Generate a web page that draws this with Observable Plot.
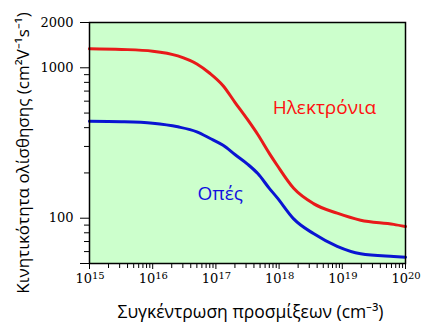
<!DOCTYPE html>
<html><head><meta charset="utf-8">
<script src="https://cdn.jsdelivr.net/npm/d3@7"></script>
<script src="https://cdn.jsdelivr.net/npm/@observablehq/plot@0.6"></script>
<style>body{margin:0;background:#fff}svg{display:block}</style>
</head><body><div id="chart"></div>
<script>
// Impurity concentration (cm^-3)
const concentration = [1e15, 3.2e15, 1e16, 2.5e16, 5e16, 8e16, 1.3e17, 2e17, 3.2e17, 4.6e17, 7e17, 9.3e17, 1.7e18, 3.5e18, 8.3e18, 1.95e19, 6.5e19, 1e20];
// Electron mobility (cm^2 V^-1 s^-1)
const electronMobility = [1340, 1325, 1290, 1200, 1060, 920, 760, 590, 450, 360, 270, 225, 158, 125, 108, 97, 91, 88];
// Hole mobility (cm^2 V^-1 s^-1)
const holeMobility = [441, 438, 428, 405, 375, 340, 305, 265, 228, 198, 158, 137, 99, 79, 65, 58, 55.6, 55];

const yMajorTicks = [50, 100, 1000, 2000];
const yMinorTicks = [60, 70, 80, 90, 200, 300, 400, 500, 600, 700, 800, 900];
const xMajorTicks = [1e15, 1e16, 1e17, 1e18, 1e19, 1e20];
const xExponents = ["15", "16", "17", "18", "19", "20"];
const xMinorTicks = [];
for (let e = 15; e < 20; e++) for (let m = 2; m <= 9; m++) xMinorTicks.push(m * Math.pow(10, e));

const seriesLabels = [
  {name: "Ηλεκτρόνια", x: 5.2e18, y: 540, color: "#ff1010"},
  {name: "Οπές", x: 1.17e17, y: 146, color: "#1010e0"}
];
const xLabel = "Συγκέντρωση προσμίξεων (cm⁻³)";
const yLabel = "Κινητικότητα ολίσθησης (cm²V⁻¹s⁻¹)";

const electrons = concentration.map((c, i) => ({c, mu: electronMobility[i]}));
const holes = concentration.map((c, i) => ({c, mu: holeMobility[i]}));

const serif = "'DejaVu Serif', serif";
const sans = "'Open Sans', sans-serif";

const chart = Plot.plot({
  width: 423, height: 326,
  marginLeft: 89, marginRight: 18, marginTop: 22, marginBottom: 63,
  style: {fontFamily: serif, fontSize: "13px", background: "#fff", color: "#000"},
  x: {type: "log", domain: [1e15, 1e20]},
  y: {type: "log", domain: [50, 2000]},
  marks: [
    Plot.frame({fill: "#ccffcc"}),
    Plot.line(holes, {x: "c", y: "mu", stroke: "#0a14d2", strokeWidth: 3, curve: "monotone-x"}),
    Plot.line(electrons, {x: "c", y: "mu", stroke: "#e81a1a", strokeWidth: 3, curve: "monotone-x"}),
    Plot.frame({stroke: "#000", strokeWidth: 1.5}),
    Plot.axisY(yMajorTicks, {tickSize: 9, tickPadding: 7, tickFormat: d => String(d), label: null, fontFamily: serif, fontSize: 13}),
    Plot.axisY(yMinorTicks, {tickSize: 5, tickFormat: () => "", label: null}),
    Plot.axisX(xMinorTicks, {tickSize: 5, tickFormat: () => "", label: null}),
    Plot.axisX(xMajorTicks, {tickSize: 6, tickFormat: () => "", label: null}),
    Plot.text(xMajorTicks, {x: d => d, frameAnchor: "bottom", text: () => "10", textAnchor: "end", dx: 2.5, dy: 19, fontFamily: serif, fontSize: 13}),
    Plot.text(xMajorTicks, {x: d => d, frameAnchor: "bottom", text: (d, i) => xExponents[i], textAnchor: "start", dx: 2.5, dy: 15, fontFamily: serif, fontSize: 10}),
    Plot.text(seriesLabels, {x: "x", y: "y", text: "name", fill: d => d.color, fontFamily: sans, fontSize: 19, textAnchor: "middle"}),
    Plot.text([xLabel], {frameAnchor: "bottom", text: d => d, dx: 3, dy: 54, fontFamily: sans, fontSize: 17.5, fill: "#000"}),
    Plot.text([yLabel], {frameAnchor: "left", text: d => d, rotate: -90, textAnchor: "middle", dx: -66, dy: 10, fontFamily: sans, fontSize: 17, fill: "#000"})
  ]
});
document.getElementById("chart").appendChild(chart);
</script>
</body></html>
